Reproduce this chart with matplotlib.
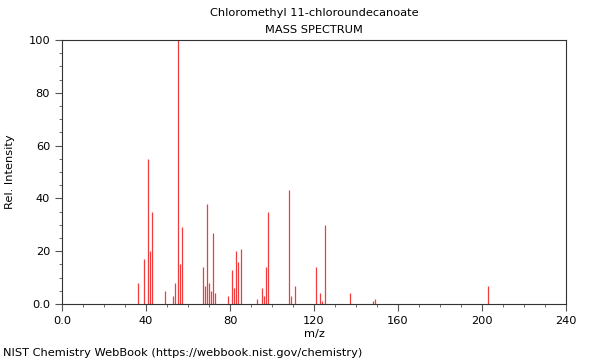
import matplotlib
matplotlib.use("Agg")
import matplotlib.pyplot as plt
from matplotlib.ticker import MultipleLocator, FixedLocator

mz = [36, 39, 41, 42, 43, 49, 53, 54, 55, 56, 57,
      67, 68, 69, 70, 71, 72, 73, 79, 81, 82, 83, 84, 85,
      93, 95, 96, 97, 98, 108, 109, 111, 121, 123, 124, 125,
      137, 148, 149, 203]
intensity = [8, 17, 55, 20, 35, 5, 3, 8, 100, 15, 29,
             14, 7, 38, 8, 5, 27, 4, 3, 13, 6, 20, 16, 21,
             2, 6, 3, 14, 35, 43, 3, 7, 14, 4, 1, 30,
             4, 1, 2, 7]

title_lines = ["Chloromethyl 11-chloroundecanoate", "MASS SPECTRUM"]
x_ticks = [0, 40, 80, 120, 160, 200, 240]
x_labels = ["0.0", "40", "80", "120", "160", "200", "240"]
y_ticks = [0, 20, 40, 60, 80, 100]
y_labels = ["0.0", "20", "40", "60", "80", "100"]

fig = plt.figure(figsize=(6, 3.6), dpi=100)
ax = fig.add_axes([62/600, 1-304/360, 504/600, 264/360])
ax.vlines(mz, 0, intensity, colors="#f03c3c", linewidth=0.9)
ax.set_xlim(0, 240)
ax.set_ylim(0, 100)
ax.xaxis.set_major_locator(FixedLocator(x_ticks))
ax.set_xticklabels(x_labels)
ax.xaxis.set_minor_locator(MultipleLocator(10))
ax.yaxis.set_major_locator(FixedLocator(y_ticks))
ax.set_yticklabels(y_labels)
ax.yaxis.set_minor_locator(MultipleLocator(5))
ax.tick_params(which="major", length=5, width=0.8, labelsize=8.2, color="#555555")
ax.tick_params(which="minor", length=2.5, width=0.6, color="#555555")
for s in ax.spines.values():
    s.set_color("#333333")
    s.set_linewidth(0.8)
ax.set_xlabel("m/z", fontsize=8.2, labelpad=2)
ax.set_ylabel("Rel. Intensity", fontsize=8.2, labelpad=10)
cx = (62 + 566) / 2 / 600
fig.text(cx, 1-13/360, title_lines[0], ha="center", va="center", fontsize=8.2)
fig.text(cx, 1-30/360, title_lines[1], ha="center", va="center", fontsize=8.2)
fig.text(3/600, 1-353/360, "NIST Chemistry WebBook (https://webbook.nist.gov/chemistry)",
         ha="left", va="center", fontsize=8.2)
fig.savefig("out.png", dpi=100)
